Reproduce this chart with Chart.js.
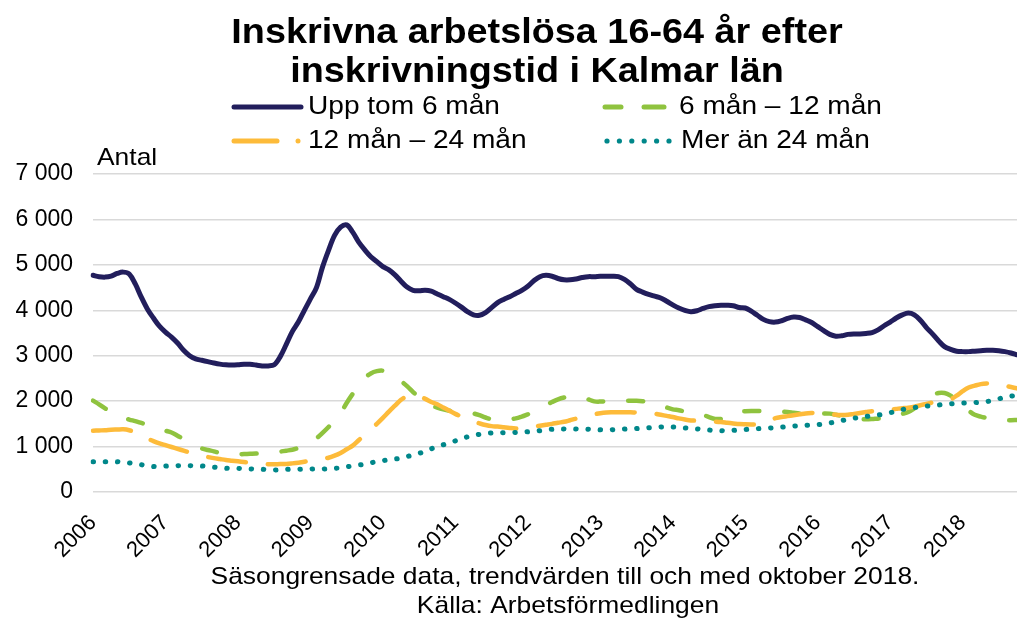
<!DOCTYPE html>
<html lang="sv">
<head>
<meta charset="utf-8">
<script src="https://cdn.jsdelivr.net/npm/chart.js@4.4.1/dist/chart.umd.min.js"></script>
<style>
  html, body { margin: 0; padding: 0; background: #fff; }
  #wrap { width: 1017px; height: 619px; position: relative; }
</style>
</head>
<body>
<div id="wrap"><canvas id="chart"></canvas></div>
<script>
// månadsvärden jan 2006 - okt 2018, trendvärden
const years = [2006, 2007, 2008, 2009, 2010, 2011, 2012, 2013, 2014, 2015, 2016, 2017, 2018];
const lastMonth = 10;

const uppTom6 = [
  4770, 4740, 4730, 4750, 4810, 4840, 4800, 4580, 4290, 4030, 3830, 3650,
  3520, 3410, 3280, 3120, 3000, 2930, 2900, 2870, 2840, 2815, 2800, 2795,
  2800, 2810, 2810, 2795, 2775, 2775, 2800, 2980, 3250, 3530, 3740, 4000,
  4250, 4500, 4950, 5320, 5650, 5830, 5880, 5720, 5500, 5330, 5180, 5070,
  4960, 4890, 4780, 4640, 4510, 4440, 4430, 4440, 4420, 4360, 4300, 4240,
  4160, 4070, 3970, 3900, 3890, 3950, 4060, 4170, 4240, 4300, 4370, 4440,
  4530, 4650, 4740, 4770, 4750, 4700, 4670, 4670, 4690, 4720, 4740, 4740,
  4750, 4750, 4750, 4740, 4680, 4580, 4460, 4400, 4350, 4310, 4270, 4200,
  4120, 4050, 4000, 3970, 3990, 4040, 4080, 4100, 4110, 4110, 4100, 4060,
  4050, 3980, 3890, 3800, 3750, 3740, 3770, 3820, 3850, 3840, 3790, 3730,
  3640, 3550, 3470, 3430, 3440, 3470, 3480, 3480, 3490, 3510, 3570, 3660,
  3740, 3830, 3900, 3940, 3900, 3780, 3620, 3480, 3330, 3200, 3140, 3100,
  3090, 3090, 3100, 3110, 3120, 3120, 3110, 3090, 3060, 3020
];

const man6till12 = [
  2010, 1930, 1840, 1770, 1700, 1640, 1595, 1560, 1520, 1480, 1440, 1390,
  1350, 1310, 1240, 1160, 1080, 1010, 960, 925, 895, 860, 835, 830,
  830, 835, 840, 845, 855, 865, 875, 890, 910, 930, 970, 1020,
  1080, 1180, 1300, 1430, 1580, 1740, 1960, 2160, 2350, 2510, 2610, 2660,
  2670, 2620, 2530, 2440, 2330, 2200, 2080, 1980, 1910, 1860, 1820, 1790,
  1770, 1760, 1745, 1730, 1690, 1640, 1600, 1585, 1590, 1605, 1620, 1660,
  1710, 1760, 1830, 1910, 1980, 2040, 2080, 2100, 2110, 2090, 2040, 1995,
  1990, 2000, 2010, 2010, 2010, 2010, 2010, 2000, 1980, 1955, 1910, 1860,
  1820, 1800, 1770, 1740, 1730, 1700, 1650, 1610, 1610, 1660, 1720, 1770,
  1780, 1785, 1785, 1780, 1775, 1770, 1770, 1760, 1745, 1730, 1725, 1725,
  1730, 1730, 1725, 1700, 1675, 1650, 1625, 1605, 1600, 1605, 1615, 1620,
  1640, 1680, 1720, 1760, 1840, 1930, 2040, 2130, 2180, 2180, 2120, 2020,
  1900, 1790, 1700, 1660, 1630, 1600, 1585, 1580, 1580, 1585
];

const man12till24 = [
  1350, 1355, 1360, 1370, 1375, 1380, 1360, 1310, 1250, 1180, 1120, 1070,
  1030, 990, 950, 910, 870, 835, 800, 770, 745, 725, 705, 690,
  675, 660, 645, 630, 618, 612, 612, 614, 618, 630, 645, 665,
  690, 710, 730, 755, 800, 860, 940, 1020, 1140, 1260, 1380, 1500,
  1630, 1770, 1900, 2030, 2110, 2140, 2110, 2050, 1980, 1930, 1860, 1790,
  1720, 1660, 1600, 1550, 1510, 1475, 1450, 1440, 1425, 1410, 1400, 1405,
  1420, 1440, 1460, 1480, 1500, 1525, 1545, 1580, 1615, 1645, 1675, 1710,
  1735, 1750, 1755, 1757, 1757, 1755, 1750, 1748, 1745, 1725, 1700, 1675,
  1650, 1620, 1595, 1575, 1570, 1565, 1555, 1550, 1540, 1525, 1510, 1495,
  1490, 1488, 1490, 1530, 1580, 1625, 1650, 1670, 1690, 1710, 1730, 1740,
  1745, 1740, 1720, 1700, 1695, 1700, 1720, 1740, 1760, 1780, 1795, 1805,
  1815, 1830, 1845, 1855, 1880, 1910, 1940, 1970, 2000, 2020, 2040, 2120,
  2220, 2300, 2340, 2375, 2390, 2390, 2370, 2340, 2310, 2280
];

const merAn24 = [
  667, 667, 667, 667, 667, 660, 640, 620, 600, 575, 560, 562,
  570, 576, 580, 580, 580, 577, 572, 560, 545, 535, 522, 520,
  520, 518, 510, 504, 500, 492, 485, 488, 497, 500, 500, 502,
  505, 506, 506, 510, 520, 535, 555, 575, 595, 612, 640, 670,
  690, 710, 725, 745, 780, 815, 850, 900, 950, 1000, 1040, 1080,
  1125, 1165, 1215, 1245, 1270, 1285, 1300, 1305, 1305, 1308, 1312, 1318,
  1325, 1335, 1350, 1368, 1380, 1387, 1387, 1387, 1387, 1386, 1382, 1375,
  1368, 1366, 1372, 1380, 1385, 1390, 1396, 1405, 1415, 1424, 1432, 1438,
  1432, 1424, 1412, 1400, 1390, 1380, 1365, 1352, 1350, 1350, 1357, 1365,
  1376, 1387, 1394, 1400, 1408, 1415, 1426, 1438, 1450, 1460, 1467, 1475,
  1484, 1497, 1520, 1545, 1572, 1598, 1622, 1645, 1662, 1678, 1695, 1715,
  1745, 1780, 1815, 1842, 1860, 1876, 1890, 1900, 1915, 1930, 1942, 1952,
  1958, 1965, 1970, 1975, 1990, 2018, 2050, 2090, 2110, 2130
];

const yTicks = [0, 1000, 2000, 3000, 4000, 5000, 6000, 7000];

const titleLines = ['Inskrivna arbetslösa 16-64 år efter', 'inskrivningstid i Kalmar län'];
const seriesNames = ['Upp tom 6 mån', '6 mån – 12 mån', '12 mån – 24 mån', 'Mer än 24 mån'];
const footLines = ['Säsongrensade data, trendvärden till och med oktober 2018.', 'Källa: Arbetsförmedlingen'];

const NAVY = '#221e5c';
const GREEN = '#8fc33f';
const GOLD = '#fdbb3a';
const TEAL = '#00878a';
const FONT = "'Liberation Sans', Arial, sans-serif";

// en kategori per månad
const labels = [];
years.forEach(y => {
  for (let m = 1; m <= 12; m++) {
    if (y === years[years.length - 1] && m > lastMonth) break;
    labels.push(y + '-' + String(m).padStart(2, '0'));
  }
});

function ds(label, data, color, dash, width) {
  return {
    label, data,
    borderColor: color,
    backgroundColor: color,
    borderWidth: width,
    borderDash: dash,
    borderCapStyle: 'round',
    borderJoinStyle: 'round',
    pointRadius: 0,
    tension: 0.35,
    fill: false
  };
}

// originalet är lite utdraget på bredden, så texten skalas i x-led
function text(ctx, str, x, y, sx) {
  ctx.save();
  ctx.translate(x, y);
  ctx.scale(sx, 1);
  ctx.fillText(str, 0, 0);
  ctx.restore();
}

// titel, legend, "Antal" och källtext ritas själva
const overlay = {
  id: 'overlay',
  afterDraw(chart) {
    const ctx = chart.ctx;
    ctx.save();
    ctx.fillStyle = '#000';
    ctx.textBaseline = 'middle';

    ctx.textAlign = 'center';
    ctx.font = 'bold 35px ' + FONT;
    text(ctx, titleLines[0], 537, 33, 1.08);
    text(ctx, titleLines[1], 537, 72, 1.08);

    ctx.textAlign = 'left';
    ctx.font = '26px ' + FONT;
    const rows = [107, 141];
    ctx.lineCap = 'round';
    ctx.strokeStyle = NAVY; ctx.lineWidth = 5; ctx.setLineDash([]);
    ctx.beginPath(); ctx.moveTo(234, rows[0]); ctx.lineTo(301, rows[0]); ctx.stroke();
    text(ctx, seriesNames[0], 308, rows[0], 1.08);

    ctx.strokeStyle = GREEN;
    ctx.beginPath(); ctx.moveTo(605, rows[0]); ctx.lineTo(621, rows[0]); ctx.stroke();
    ctx.beginPath(); ctx.moveTo(644, rows[0]); ctx.lineTo(664, rows[0]); ctx.stroke();
    text(ctx, seriesNames[1], 679, rows[0], 1.08);

    ctx.strokeStyle = GOLD;
    ctx.beginPath(); ctx.moveTo(234, rows[1]); ctx.lineTo(277, rows[1]); ctx.stroke();
    ctx.fillStyle = GOLD;
    ctx.beginPath(); ctx.arc(298, rows[1], 2.5, 0, Math.PI * 2); ctx.fill();
    ctx.fillStyle = '#000';
    text(ctx, seriesNames[2], 308, rows[1], 1.08);

    ctx.fillStyle = TEAL;
    for (let i = 0; i < 6; i++) {
      ctx.beginPath(); ctx.arc(607 + i * 12.4, rows[1], 2.6, 0, Math.PI * 2); ctx.fill();
    }
    ctx.fillStyle = '#000';
    text(ctx, seriesNames[3], 681, rows[1], 1.08);

    ctx.font = '24px ' + FONT;
    text(ctx, 'Antal', 97, 158, 1.1);

    ctx.textAlign = 'center';
    ctx.font = '24px ' + FONT;
    text(ctx, footLines[0], 565, 577, 1.1);
    text(ctx, footLines[1], 568, 606, 1.1);
    ctx.restore();
  }
};

new Chart(document.getElementById('chart'), {
  type: 'line',
  data: {
    labels,
    datasets: [
      ds(seriesNames[3], merAn24, TEAL, [0.5, 11.7], 5),
      ds(seriesNames[2], man12till24, GOLD, [38, 22], 4.5),
      ds(seriesNames[1], man6till12, GREEN, [15, 25], 4.5),
      ds(seriesNames[0], uppTom6, NAVY, [], 5)
    ]
  },
  options: {
    responsive: true,
    maintainAspectRatio: false,
    animation: false,
    layout: { padding: { top: 174, left: 0, right: 0, bottom: 0 } },
    plugins: {
      legend: { display: false },
      title: { display: false },
      tooltip: { enabled: false }
    },
    scales: {
      x: {
        offset: false,
        grid: { display: false },
        border: { display: false },
        afterFit(s) {
          s.height = 127;
          s.paddingLeft = 0;
          s.paddingRight = 0;
        },
        ticks: {
          autoSkip: false,
          minRotation: 45,
          maxRotation: 45,
          padding: 10,
          color: '#000',
          font: { family: FONT, size: 22 },
          callback(v, i) {
            const l = labels[i];
            return l.endsWith('-01') ? l.slice(0, 4) : '';
          }
        }
      },
      y: {
        min: 0,
        max: 7000,
        afterFit(s) { s.width = 93; },
        afterBuildTicks(s) { s.ticks = yTicks.map(v => ({ value: v })); },
        border: { display: false },
        grid: { color: '#d9d9d9', lineWidth: 1.5, drawTicks: false },
        ticks: {
          padding: 20,
          color: '#000',
          font: { family: FONT, size: 23 },
          callback: v => v === 0 ? '0' : String(v).replace(/\B(?=(\d{3})+(?!\d))/g, ' ')
        }
      }
    }
  },
  plugins: [overlay]
});
</script>
</body>
</html>
